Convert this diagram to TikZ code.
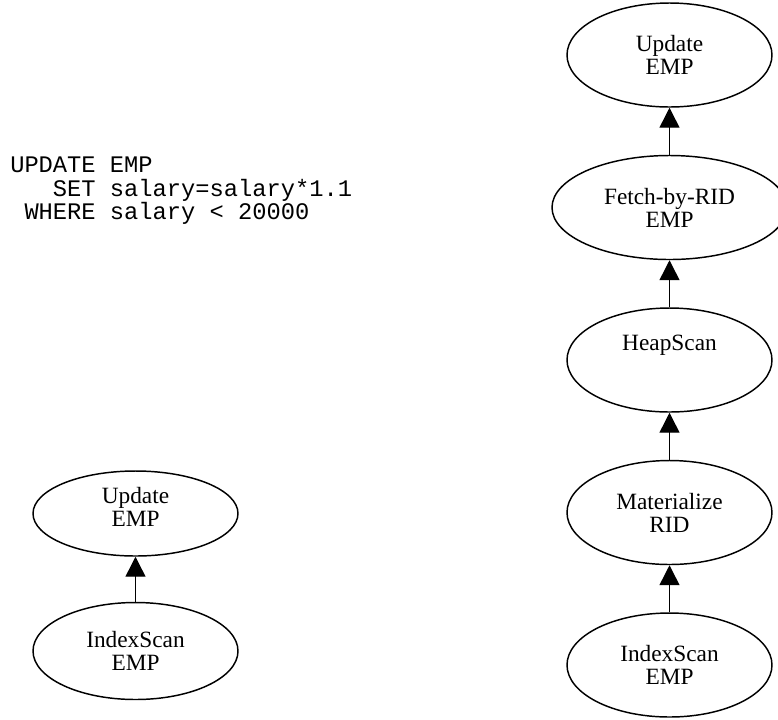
\documentclass[tikz,border=0pt]{standalone}
\usepackage{fontspec}
\setmainfont{Liberation Serif}
\setmonofont{Liberation Mono}
\usetikzlibrary{shapes.geometric,arrows.meta}
\begin{document}
\begin{tikzpicture}[x=0.75pt,y=-0.75pt,
  opnode/.style={draw=black,line width=1.1pt,ellipse,inner sep=0pt,
    minimum width=153.75pt,minimum height=78pt,align=center,
    font=\fontsize{17.5}{17.25}\selectfont},
  optext/.style={inner sep=0pt,align=center,font=\fontsize{17.5}{17.25}\selectfont},
  flow/.style={draw=black,line width=1.1pt,-{Triangle[length=15pt,width=15pt]}}]
\useasboundingbox (0,0) rectangle (778,719);
\begin{scope}
\clip (0,0) rectangle (778,719);
% SQL text
\node[anchor=west,align=left,inner sep=0pt,
  font=\ttfamily\fontsize{17.8}{17.6}\selectfont] (sql) at (10,191)
  {UPDATE EMP\\\phantom{xxx}SET salary=salary*1.1\\\phantom{x}WHERE salary < 20000};
% left plan
\node[opnode,minimum height=63.75pt] (lup) at (135.5,513.5) {};
\node[optext] (lupt) at (135.5,507) {Update\\EMP};
\node[opnode,minimum height=72.75pt] (lis) at (135.5,651) {IndexScan\\EMP};
\draw[flow] (lis.north) -- (lup.south);
% right plan
\node[opnode] (rup) at (669.5,55) {Update\\EMP};
\node[opnode,minimum width=176.25pt] (rfe) at (669.5,207.5) {Fetch-by-RID\\EMP};
\node[opnode] (rhs) at (669.5,360) {};
\node[optext] (rhst) at (669.5,345) {HeapScan};
\node[opnode] (rma) at (669.5,512.5) {Materialize\\RID};
\node[opnode] (ris) at (669.5,665) {IndexScan\\EMP};
\draw[flow] (ris.north) -- (rma.south);
\draw[flow] (rma.north) -- (rhs.south);
\draw[flow] (rhs.north) -- (rfe.south);
\draw[flow] (rfe.north) -- (rup.south);
\end{scope}
\end{tikzpicture}
\end{document}
